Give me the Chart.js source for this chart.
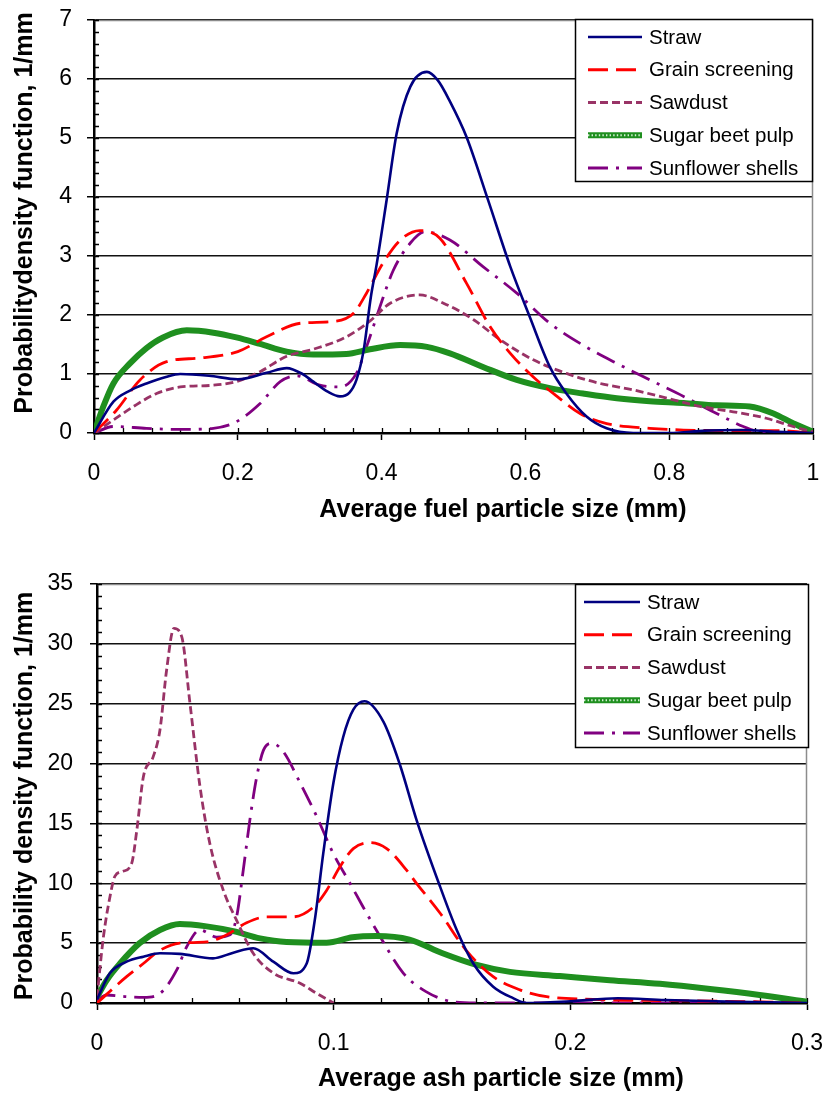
<!DOCTYPE html>
<html><head><meta charset="utf-8">
<script src="https://cdn.jsdelivr.net/npm/chart.js@4.4.1/dist/chart.umd.min.js"></script>
<style>
html,body{margin:0;padding:0;background:#fff;}
#wrap{position:relative;width:827px;height:1095px;overflow:hidden;background:#fff;}
canvas{position:absolute;left:0;}
</style></head><body>
<div id="wrap">
<canvas id="fuel" width="827" height="545" style="top:0px"></canvas>
<canvas id="ash" width="827" height="550" style="top:545px"></canvas>
</div>
<script>
const seriesNames = ['Straw', 'Grain screening', 'Sawdust', 'Sugar beet pulp', 'Sunflower shells'];

// ---------- Fuel particle size chart ----------
const fuelXTicks = [0, 0.2, 0.4, 0.6, 0.8, 1];
const fuelYTicks = [0, 1, 2, 3, 4, 5, 6, 7];
const fuelStrawX = [0, 0.027, 0.05, 0.073, 0.1, 0.12, 0.16, 0.2, 0.24, 0.268, 0.29, 0.305, 0.325, 0.342, 0.355, 0.365, 0.375, 0.385, 0.393, 0.407, 0.421, 0.44, 0.463, 0.478, 0.495, 0.518, 0.548, 0.579, 0.606, 0.634, 0.657, 0.685, 0.713, 0.75, 0.8, 0.85, 0.9, 0.95, 1.0];
const fuelStrawY = [0, 0.53, 0.72, 0.84, 0.95, 1.0, 0.97, 0.91, 1.02, 1.10, 1.0, 0.87, 0.70, 0.62, 0.68, 0.9, 1.4, 2.3, 2.85, 3.95, 5.08, 5.87, 6.12, 5.98, 5.62, 5.02, 3.95, 2.82, 1.97, 1.12, 0.67, 0.28, 0.08, 0, 0, 0.04, 0.05, 0.02, 0];
const fuelGrainX = [0, 0.0315, 0.064, 0.101, 0.147, 0.2, 0.24, 0.287, 0.333, 0.361, 0.379, 0.402, 0.426, 0.453, 0.481, 0.518, 0.551, 0.579, 0.611, 0.644, 0.676, 0.713, 0.773, 0.82, 0.9, 0.95, 1.0];
const fuelGrainY = [0, 0.39, 0.9, 1.21, 1.27, 1.38, 1.63, 1.86, 1.89, 2.03, 2.37, 2.88, 3.27, 3.43, 3.3, 2.54, 1.80, 1.35, 0.95, 0.62, 0.33, 0.16, 0.08, 0.05, 0.04, 0.04, 0];
const fuelSawdustX = [0, 0.027, 0.055, 0.087, 0.12, 0.166, 0.198, 0.231, 0.268, 0.305, 0.351, 0.384, 0.412, 0.453, 0.486, 0.528, 0.565, 0.611, 0.657, 0.704, 0.75, 0.797, 0.843, 0.889, 0.935, 0.972, 1.0];
const fuelSawdustY = [0, 0.22, 0.45, 0.67, 0.78, 0.81, 0.87, 1.04, 1.3, 1.42, 1.63, 1.9, 2.2, 2.34, 2.2, 1.92, 1.58, 1.24, 1.01, 0.84, 0.73, 0.59, 0.45, 0.36, 0.25, 0.11, 0.02];
const fuelSugarX = [0, 0.013, 0.027, 0.05, 0.073, 0.096, 0.129, 0.166, 0.198, 0.231, 0.268, 0.305, 0.351, 0.384, 0.426, 0.463, 0.495, 0.541, 0.588, 0.634, 0.68, 0.727, 0.773, 0.82, 0.866, 0.912, 0.945, 0.973, 1.0];
const fuelSugarY = [0, 0.45, 0.84, 1.18, 1.44, 1.62, 1.74, 1.70, 1.62, 1.51, 1.38, 1.33, 1.34, 1.42, 1.49, 1.46, 1.35, 1.12, 0.90, 0.76, 0.67, 0.59, 0.54, 0.51, 0.47, 0.45, 0.33, 0.16, 0.02];
const fuelSunflowerX = [0, 0.027, 0.073, 0.12, 0.166, 0.198, 0.231, 0.259, 0.282, 0.314, 0.342, 0.365, 0.379, 0.398, 0.416, 0.44, 0.46, 0.495, 0.541, 0.588, 0.634, 0.68, 0.727, 0.773, 0.82, 0.866, 0.903, 0.926, 0.96, 1.0];
const fuelSunflowerY = [0, 0.11, 0.08, 0.06, 0.08, 0.19, 0.50, 0.87, 0.97, 0.81, 0.78, 1.01, 1.46, 2.15, 2.75, 3.22, 3.41, 3.27, 2.82, 2.37, 1.86, 1.49, 1.18, 0.90, 0.62, 0.33, 0.11, 0.02, 0, 0];

// ---------- Ash particle size chart ----------
const ashXTicks = [0, 0.1, 0.2, 0.3];
const ashYTicks = [0, 5, 10, 15, 20, 25, 30, 35];
const ashStrawX = [0, 0.0055, 0.0125, 0.0196, 0.0266, 0.035, 0.049, 0.0576, 0.066, 0.0745, 0.083, 0.0886, 0.092, 0.0956, 0.0999, 0.104, 0.1083, 0.113, 0.121, 0.128, 0.135, 0.145, 0.152, 0.159, 0.1674, 0.176, 0.1815, 0.2, 0.22, 0.24, 0.27, 0.3];
const ashStrawY = [0.3, 2.5, 3.45, 3.87, 4.15, 4.1, 3.73, 4.2, 4.57, 3.45, 2.48, 3.3, 6.9, 12.5, 18.4, 22.2, 24.5, 25.2, 23.5, 19.9, 15.3, 9.7, 6.1, 3.3, 1.36, 0.39, 0, 0.15, 0.4, 0.25, 0.1, 0];
const ashGrainX = [0, 0.0125, 0.0196, 0.0266, 0.035, 0.0463, 0.0548, 0.0632, 0.0717, 0.083, 0.0914, 0.097, 0.1027, 0.1083, 0.1153, 0.1224, 0.1308, 0.135, 0.145, 0.156, 0.1674, 0.1787, 0.19, 0.2097, 0.252, 0.28, 0.3];
const ashGrainY = [0, 2.2, 3.3, 4.4, 5.0, 5.1, 5.7, 6.7, 7.2, 7.2, 8.0, 9.4, 11.4, 12.9, 13.4, 12.9, 11.1, 10.0, 7.5, 4.4, 2.2, 1.1, 0.53, 0.3, 0.17, 0.1, 0];
const ashSawdustX = [0, 0.0027, 0.0055, 0.0076, 0.011, 0.0147, 0.0168, 0.0196, 0.0238, 0.0266, 0.0294, 0.0325, 0.0358, 0.0393, 0.0435, 0.0477, 0.0534, 0.059, 0.066, 0.0745, 0.0858, 0.0928, 0.1];
const ashSawdustY = [0.5, 5.5, 8.9, 10.6, 11.0, 11.7, 14.4, 18.9, 20.6, 22.8, 27.8, 31.3, 30.6, 25.0, 18.1, 13.3, 9.4, 6.9, 4.15, 2.5, 1.65, 0.8, 0];
const ashSugarX = [0, 0.0041, 0.0097, 0.018, 0.0266, 0.035, 0.0463, 0.0576, 0.0689, 0.0801, 0.097, 0.108, 0.118, 0.132, 0.146, 0.16, 0.1745, 0.1956, 0.2167, 0.2379, 0.259, 0.28, 0.3];
const ashSugarY = [0.5, 1.9, 3.3, 5.0, 6.1, 6.6, 6.4, 6.0, 5.4, 5.1, 5.04, 5.5, 5.6, 5.3, 4.15, 3.2, 2.6, 2.25, 1.9, 1.6, 1.17, 0.67, 0.1];
const ashSunflowerX = [0, 0.004, 0.0125, 0.0196, 0.0266, 0.0337, 0.0379, 0.0435, 0.0506, 0.0562, 0.059, 0.0618, 0.0646, 0.0675, 0.0703, 0.0738, 0.0787, 0.0858, 0.0928, 0.0998, 0.1069, 0.1125, 0.118, 0.1294, 0.139, 0.1505, 0.16, 0.2, 0.3];
const ashSunflowerY = [0.2, 0.67, 0.53, 0.47, 0.8, 2.76, 4.7, 6.1, 5.5, 5.7, 7.2, 11.1, 15.3, 18.9, 21.1, 21.7, 21.0, 18.4, 15.6, 12.5, 10.0, 8.0, 6.1, 2.5, 0.95, 0.1, 0, 0, 0];

const FONT = '"Liberation Sans", Arial, Helvetica, sans-serif';

function pts(xs, ys) { return xs.map((x, i) => ({ x: x, y: ys[i] })); }

function buildDatasets(s) {
  return [
    { label: seriesNames[0], data: pts(s.straw[0], s.straw[1]), borderColor: '#000080', borderWidth: 2.6, borderDash: [] },
    { label: seriesNames[1], data: pts(s.grain[0], s.grain[1]), borderColor: '#ff0000', borderWidth: 2.8, borderDash: [20, 8] },
    { label: seriesNames[2], data: pts(s.sawdust[0], s.sawdust[1]), borderColor: '#993366', borderWidth: 2.8, borderDash: [8, 4] },
    { label: seriesNames[3], data: pts(s.sugar[0], s.sugar[1]), borderColor: '#1f8f1f', borderWidth: 6, borderDash: [], overlay: 4 },
    { label: seriesNames[3], data: pts(s.sugar[0], s.sugar[1]), borderColor: '#d4f0d4', borderWidth: 2, borderDash: [1.4, 2.2], legendSkip: true },
    { label: seriesNames[4], data: pts(s.sun[0], s.sun[1]), borderColor: '#800080', borderWidth: 2.8, borderDash: [20, 8, 3, 8] }
  ];
}

function decorPlugin(o) {
  return {
    id: 'decor',
    beforeDatasetsDraw(chart) {
      const ctx = chart.ctx, a = chart.chartArea, x = chart.scales.x, y = chart.scales.y;
      ctx.save();
      ctx.strokeStyle = '#8c8c8c';
      ctx.lineWidth = 1.5;
      ctx.beginPath();
      ctx.moveTo(a.left, a.top + 0.5);
      ctx.lineTo(a.right - 0.5, a.top + 0.5);
      ctx.lineTo(a.right - 0.5, a.bottom);
      ctx.stroke();
      ctx.strokeStyle = '#000';
      ctx.lineWidth = 1.3;
      ctx.beginPath();
      const nx = Math.round((x.max - x.min) / o.xMinor);
      for (let i = 0; i <= nx; i++) {
        const px = Math.round(x.getPixelForValue(x.min + i * o.xMinor)) + 0.5;
        ctx.moveTo(px, a.bottom);
        ctx.lineTo(px, a.bottom - 5);
      }
      const ny = Math.round((y.max - y.min) / o.yMinor);
      for (let i = 0; i <= ny; i++) {
        const py = Math.round(y.getPixelForValue(y.min + i * o.yMinor)) + 0.5;
        ctx.moveTo(a.left, py);
        ctx.lineTo(a.left + 5, py);
      }
      ctx.stroke();
      ctx.restore();
    },
    afterDraw(chart) {
      const ctx = chart.ctx, a = chart.chartArea;
      ctx.save();
      // axis titles
      ctx.fillStyle = '#000';
      ctx.font = 'bold 25px ' + FONT;
      ctx.textAlign = 'center';
      ctx.textBaseline = 'alphabetic';
      ctx.fillText(o.xTitle, o.xTitleX, o.xTitleY);
      ctx.save();
      ctx.translate(o.yTitleX, o.yTitleY);
      ctx.rotate(-Math.PI / 2);
      ctx.fillText(o.yTitle, 0, 0);
      ctx.restore();
      // legend
      const L = a.right + o.legRightOff - o.legW;
      const T = a.top + o.legTopOff;
      ctx.fillStyle = '#fff';
      ctx.fillRect(L, T, o.legW, o.legH);
      ctx.strokeStyle = '#000';
      ctx.lineWidth = 1.5;
      ctx.setLineDash([]);
      ctx.strokeRect(L + 0.5, T + 0.5, o.legW, o.legH);
      const ds = chart.data.datasets;
      let k = 0;
      ds.forEach((d) => {
        if (d.legendSkip) return;
        const cy = T + 18 + k * 32.75;
        const draw = (dd) => {
          ctx.strokeStyle = dd.borderColor;
          ctx.lineWidth = dd.borderWidth;
          ctx.setLineDash(dd.borderDash || []);
          ctx.beginPath();
          ctx.moveTo(L + o.legS0, cy);
          ctx.lineTo(L + o.legS1, cy);
          ctx.stroke();
        };
        draw(d);
        if (d.overlay !== undefined) draw(ds[d.overlay]);
        ctx.setLineDash([]);
        ctx.fillStyle = '#000';
        ctx.font = '20.5px ' + FONT;
        ctx.textAlign = 'left';
        ctx.textBaseline = 'middle';
        ctx.fillText(d.label, L + o.legT, cy + 1);
        k++;
      });
      ctx.restore();
    }
  };
}

function makeChart(id, o) {
  return new Chart(document.getElementById(id), {
    type: 'line',
    data: { datasets: o.datasets },
    options: {
      responsive: false,
      maintainAspectRatio: false,
      animation: false,
      devicePixelRatio: 1,
      layout: { padding: { top: o.padTop, right: o.padRight, left: 0, bottom: 0 } },
      plugins: { legend: { display: false }, tooltip: { enabled: false } },
      elements: { point: { radius: 0, hoverRadius: 0 }, line: { cubicInterpolationMode: 'monotone', fill: false } },
      scales: {
        x: {
          type: 'linear', min: o.xTicks[0], max: o.xTicks[o.xTicks.length - 1],
          afterBuildTicks: (s) => { s.ticks = o.xTicks.map(v => ({ value: v })); },
          afterFit: (s) => { s.height = o.xHeight; s.paddingLeft = 0; s.paddingRight = 0; },
          grid: { drawOnChartArea: false, drawTicks: true, tickLength: 7, tickColor: '#000', tickWidth: 1.5 },
          border: { color: '#000', width: 2.5 },
          ticks: { padding: o.xPad, color: '#000', font: { family: FONT, size: 23 }, maxRotation: 0, autoSkip: false, callback: (v) => String(v) }
        },
        y: {
          type: 'linear', min: o.yTicks[0], max: o.yTicks[o.yTicks.length - 1],
          afterBuildTicks: (s) => { s.ticks = o.yTicks.map(v => ({ value: v })); },
          afterFit: (s) => { s.width = o.yWidth; s.paddingTop = 0; s.paddingBottom = 0; },
          grid: { color: '#111', lineWidth: 1.5, drawTicks: true, tickLength: 7, tickColor: '#000', tickWidth: 1.5 },
          border: { color: '#000', width: 2.5 },
          ticks: { padding: o.yPad, color: '#000', font: { family: FONT, size: 23 }, autoSkip: false, callback: (v) => String(v) }
        }
      }
    },
    plugins: [decorPlugin(o)]
  });
}

makeChart('fuel', {
  datasets: buildDatasets({ straw: [fuelStrawX, fuelStrawY], grain: [fuelGrainX, fuelGrainY], sawdust: [fuelSawdustX, fuelSawdustY], sugar: [fuelSugarX, fuelSugarY], sun: [fuelSunflowerX, fuelSunflowerY] }),
  xTicks: fuelXTicks, yTicks: fuelYTicks, xMinor: 0.04, yMinor: 0.2,
  padTop: 20, padRight: 14, yWidth: 94, xHeight: 112, xPad: 20, yPad: 15,
  xTitle: 'Average fuel particle size (mm)', xTitleX: 503, xTitleY: 517,
  yTitle: 'Probabilitydensity function, 1/mm', yTitleX: 32, yTitleY: 213,
  legW: 237, legH: 162, legRightOff: -1, legTopOff: -1, legS0: 13, legS1: 67, legT: 74
});

makeChart('ash', {
  datasets: buildDatasets({ straw: [ashStrawX, ashStrawY], grain: [ashGrainX, ashGrainY], sawdust: [ashSawdustX, ashSawdustY], sugar: [ashSugarX, ashSugarY], sun: [ashSunflowerX, ashSunflowerY] }),
  xTicks: ashXTicks, yTicks: ashYTicks, xMinor: 0.02, yMinor: 1,
  padTop: 39, padRight: 20, yWidth: 97, xHeight: 92, xPad: 20, yPad: 17,
  xTitle: 'Average ash particle size (mm)', xTitleX: 501, xTitleY: 541,
  yTitle: 'Probability density function, 1/mm', yTitleX: 32, yTitleY: 251,
  legW: 233, legH: 163, legRightOff: 1, legTopOff: 0, legS0: 9, legS1: 65, legT: 72
});
</script>
</body></html>
